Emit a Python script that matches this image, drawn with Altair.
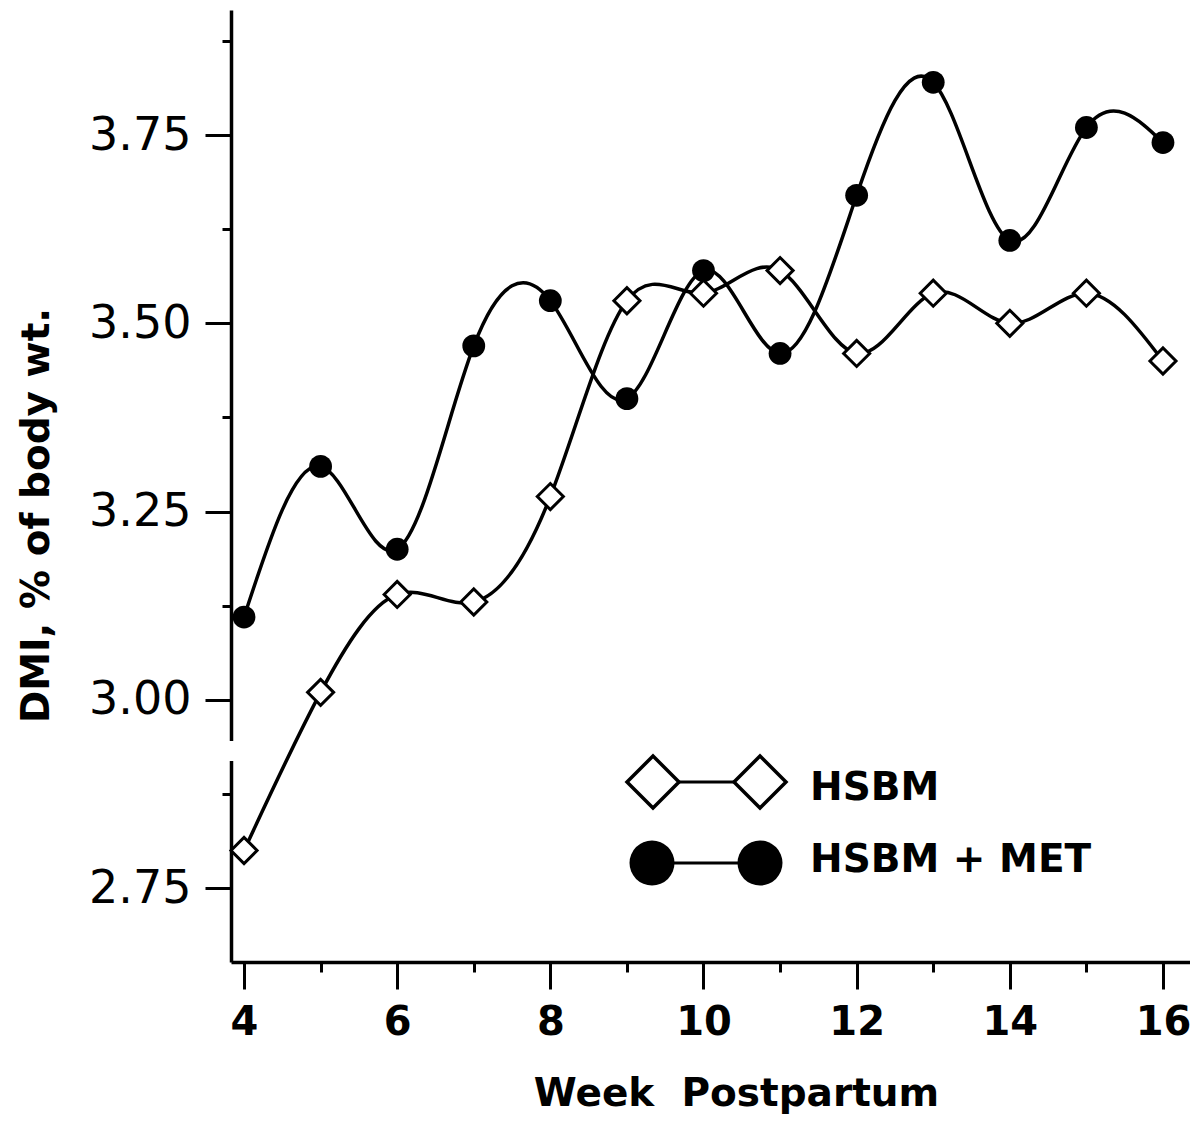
import altair as alt
import pandas as pd

weeks = list(range(4, 17))
hsbm = [2.80, 3.01, 3.14, 3.13, 3.27, 3.53, 3.54, 3.57, 3.46, 3.54, 3.50, 3.54, 3.45]
hsbm_met = [3.11, 3.31, 3.20, 3.47, 3.53, 3.40, 3.57, 3.46, 3.67, 3.82, 3.61, 3.76, 3.74]
series_names = ["HSBM", "HSBM + MET"]
x_ticks = list(range(4, 17))
y_ticks = [2.75, 2.875, 3.0, 3.125, 3.25, 3.375, 3.5, 3.625, 3.75, 3.875]

df = pd.DataFrame({
    "week": weeks * 2,
    "dmi": hsbm + hsbm_met,
    "series": [series_names[0]] * len(weeks) + [series_names[1]] * len(weeks),
})
leg0 = pd.DataFrame({"label": [series_names[0]]})
leg1 = pd.DataFrame({"label": [series_names[1]]})

FONT = "DejaVu Sans"

x_enc = alt.X(
    "week:Q",
    scale=alt.Scale(domain=[3.83, 16.353], nice=False, zero=False),
    axis=alt.Axis(
        values=x_ticks,
        labelExpr="datum.value % 2 == 0 ? format(datum.value, 'd') : ''",
        tickSize={"condition": {"test": "datum.value % 2 == 1", "value": 10}, "value": 27},
        tickWidth=3, tickColor="black",
        domainWidth=3.5, domainColor="black",
        labelFont=FONT, labelFontSize=40, labelFontWeight="bold", labelColor="black",
        labelBaseline="alphabetic", labelPadding=45,
        title="Week\u00a0\u00a0Postpartum",
        titleFont=FONT, titleFontSize=39, titleFontWeight="bold", titleColor="black",
        titleX=505, titleY=143, titleBaseline="alphabetic", titleAlign="center",
        grid=False,
    ),
)
y_enc = alt.Y(
    "dmi:Q",
    scale=alt.Scale(domain=[2.652, 3.916], nice=False, zero=False),
    axis=alt.Axis(
        values=y_ticks,
        labelExpr="(datum.value * 4) % 1 == 0 ? format(datum.value, '.2f') : ''",
        tickSize={"condition": {"test": "(datum.value * 4) % 1 == 0", "value": 26}, "value": 9},
        tickWidth=3, tickColor="black",
        domainWidth=3.5, domainColor="black",
        labelFont=FONT, labelFontSize=46, labelColor="black",
        labelPadding=14,
        title="DMI, % of body wt.",
        titleFont=FONT, titleFontSize=39, titleFontWeight="bold", titleColor="black",
        titleX=-195, titleY=505, titleAngle=270, titleBaseline="middle", titleAlign="center",
        grid=False,
    ),
)

base = alt.Chart(df)
lines = base.mark_line(interpolate="natural", color="black", strokeWidth=3.5).encode(
    x=x_enc, y=y_enc, detail="series:N"
)
diamonds = base.transform_filter(alt.datum.series == series_names[0]).mark_point(
    shape="diamond", filled=True, fill="white", stroke="black", strokeWidth=3, size=680, opacity=1
).encode(x="week:Q", y="dmi:Q")
circles = base.transform_filter(alt.datum.series == series_names[1]).mark_point(
    shape="circle", filled=True, color="black", size=520, opacity=1
).encode(x="week:Q", y="dmi:Q")

# axis break
axis_gap = alt.Chart(leg0).mark_rect(color="white").encode(
    x=alt.value(-4), x2=alt.value(4), y=alt.value(731), y2=alt.value(751)
)

# legend
l_rule0 = alt.Chart(leg0).mark_rule(color="black", strokeWidth=3).encode(
    x=alt.value(422), x2=alt.value(529), y=alt.value(772)
)
l_rule1 = alt.Chart(leg1).mark_rule(color="black", strokeWidth=3).encode(
    x=alt.value(421), x2=alt.value(529), y=alt.value(853)
)
l_d1 = alt.Chart(leg0).mark_point(shape="diamond", filled=True, fill="white", stroke="black",
                                  strokeWidth=3.5, size=2704, opacity=1).encode(x=alt.value(422), y=alt.value(772))
l_d2 = alt.Chart(leg0).mark_point(shape="diamond", filled=True, fill="white", stroke="black",
                                  strokeWidth=3.5, size=2704, opacity=1).encode(x=alt.value(529), y=alt.value(772))
l_c1 = alt.Chart(leg1).mark_point(shape="circle", filled=True, color="black", size=2025,
                                  opacity=1).encode(x=alt.value(421), y=alt.value(853))
l_c2 = alt.Chart(leg1).mark_point(shape="circle", filled=True, color="black", size=2025,
                                  opacity=1).encode(x=alt.value(529), y=alt.value(853))
l_t0 = alt.Chart(leg0).mark_text(align="left", baseline="alphabetic", font=FONT, fontSize=39,
                                 fontWeight="bold", color="black").encode(
    x=alt.value(579), y=alt.value(790), text="label:N")
l_t1 = alt.Chart(leg1).mark_text(align="left", baseline="alphabetic", font=FONT, fontSize=39,
                                 fontWeight="bold", color="black").encode(
    x=alt.value(579), y=alt.value(862), text="label:N")

chart = alt.layer(
    lines, diamonds, circles, axis_gap,
    l_rule0, l_rule1, l_d1, l_d2, l_c1, l_c2, l_t0, l_t1,
).properties(
    width=959, height=952,
    autosize=alt.AutoSizeParams(type="none"),
    padding={"left": 231, "top": 10, "right": 0, "bottom": 162},
    background="white",
).configure_view(stroke=None)

chart.save("out.html", embed_options={"renderer": "svg", "actions": False})
